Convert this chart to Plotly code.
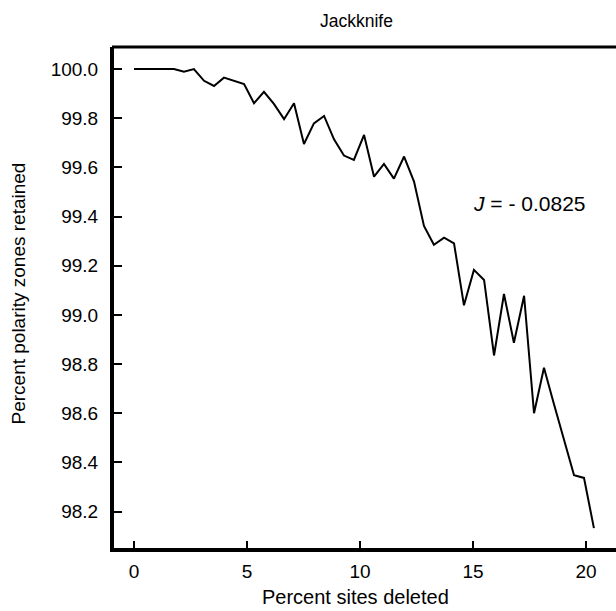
import plotly.graph_objects as go

# Percent sites deleted
sites_deleted = [0.00, 0.44, 0.88, 1.33, 1.77, 2.21, 2.65, 3.10, 3.54, 3.98,
                 4.42, 4.87, 5.31, 5.75, 6.19, 6.64, 7.08, 7.52, 7.96, 8.41,
                 8.85, 9.29, 9.73, 10.18, 10.62, 11.06, 11.50, 11.95, 12.39, 12.83,
                 13.27, 13.72, 14.16, 14.60, 15.04, 15.49, 15.93, 16.37, 16.81, 17.26,
                 17.70, 18.14, 18.58, 19.03, 19.47, 19.91, 20.35]
# Percent polarity zones retained
zones_retained = [100.000, 100.000, 100.000, 100.000, 100.000, 99.989, 100.000, 99.952, 99.931, 99.965,
                  99.952, 99.939, 99.861, 99.907, 99.858, 99.796, 99.861, 99.695, 99.779, 99.809,
                  99.714, 99.648, 99.630, 99.732, 99.562, 99.614, 99.554, 99.644, 99.542, 99.362,
                  99.285, 99.314, 99.291, 99.039, 99.183, 99.142, 98.835, 99.085, 98.887, 99.078,
                  98.600, 98.785, 98.638, 98.493, 98.348, 98.337, 98.133]

x_ticks = [0, 5, 10, 15, 20]
y_ticks = [98.2, 98.4, 98.6, 98.8, 99.0, 99.2, 99.4, 99.6, 99.8, 100.0]

FONT = "Liberation Sans, Arial, sans-serif"

fig = go.Figure()
fig.add_trace(go.Scatter(x=sites_deleted, y=zones_retained, mode="lines",
                         line=dict(color="black", width=2), showlegend=False,
                         hoverinfo="skip"))

fig.update_layout(
    width=616, height=611,
    margin=dict(l=114, r=0, t=47, b=63),
    paper_bgcolor="white", plot_bgcolor="white",
    font=dict(family=FONT, color="black", size=19),
    xaxis=dict(range=[-0.885, 21.327], tickvals=x_ticks, ticktext=[str(v) for v in x_ticks],
               ticks="inside", ticklen=7, tickwidth=2, tickcolor="black",
               showline=True, linewidth=4, linecolor="black",
               showgrid=False, zeroline=False, tickfont=dict(size=19, family=FONT),
               ticklabelstandoff=3),
    yaxis=dict(range=[98.052, 100.0895], tickvals=y_ticks, ticktext=[f"{v:.1f}" for v in y_ticks],
               ticks="inside", ticklen=8, tickwidth=2, tickcolor="black",
               showline=True, linewidth=4, linecolor="black",
               showgrid=False, zeroline=False, tickfont=dict(size=19, family=FONT),
               ticklabelstandoff=8),
    shapes=[dict(type="line", xref="paper", yref="paper", x0=-0.004, x1=1, y0=1, y1=1,
                 line=dict(color="black", width=3))],
    annotations=[
        dict(text="Jackknife", xref="paper", yref="paper", x=0.484, y=1, yshift=26,
             showarrow=False, font=dict(size=17.5, family=FONT), xanchor="center", yanchor="middle"),
        dict(text="Percent sites deleted", xref="paper", yref="paper", x=0.481, y=0, yshift=-49,
             showarrow=False, font=dict(size=20, family=FONT), xanchor="center", yanchor="middle"),
        dict(text="Percent polarity zones retained", xref="paper", yref="paper", x=0, xshift=-96,
             y=0.5, yshift=4, textangle=-90, showarrow=False, font=dict(size=19, family=FONT),
             xanchor="center", yanchor="middle"),
        dict(text="<i>J</i> = - 0.0825", xref="x", yref="y", x=17.48, y=99.455,
             showarrow=False, font=dict(size=21, family=FONT), xanchor="center", yanchor="middle"),
    ],
)

fig.write_html("out.html")
